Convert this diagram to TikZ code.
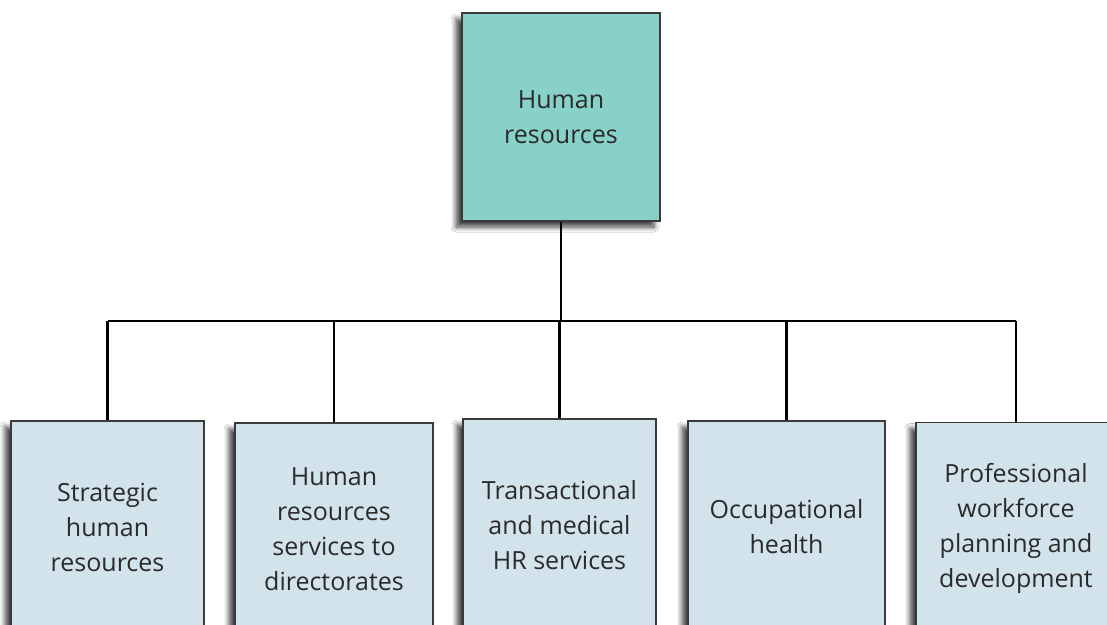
\documentclass[tikz,border=0pt]{standalone}
\usepackage{fontspec}
\setmainfont{Open Sans}
\usetikzlibrary{shadows.blur}
\definecolor{topfill}{HTML}{88D1C9}
\definecolor{childfill}{HTML}{D3E3EC}
\definecolor{boxedge}{HTML}{3A3A3A}
\definecolor{txt}{HTML}{2A2A2A}
\tikzset{
  unitbox/.style={draw=boxedge, line width=1.3pt, text=txt, align=center,
    inner sep=0pt, font=\fontsize{25}{35}\selectfont,
    blur shadow={shadow xshift=-6pt, shadow yshift=-6pt, shadow blur radius=5pt, shadow blur steps=8, shadow opacity=75}},
  headbox/.style={unitbox, fill=topfill, minimum width=198pt, minimum height=208pt},
  childbox/.style={unitbox, fill=childfill, minimum height=212pt},
  link/.style={draw=black, line width=2.3pt}
}
\begin{document}
\begin{tikzpicture}[x=1pt,y=-1pt]
\clip (0,0) rectangle (1107,624);
\fill[white] (0,0) rectangle (1107,624);
\node[headbox] (top) at (561,117) {Human\\resources};
\node[childbox, minimum width=193pt] (c1) at (107.5,527) {Strategic\\human\\resources};
\node[childbox, minimum width=198pt] (c2) at (334,529) {Human\\resources\\services to\\directorates};
\node[childbox, minimum width=193pt] (c3) at (559.5,525) {Transactional\\and medical\\HR services};
\node[childbox, minimum width=197pt] (c4) at (786.5,527) {Occupational\\health};
\node[childbox, minimum width=200pt] (c5) at (1016,528.5) {Professional\\workforce\\planning and\\development};
\coordinate (bus) at (561,321);
\draw[link] (top.south) -- (bus);
\draw[link] (c1.north |- bus) -- (c5.north |- bus);
\foreach \n in {c1,c2,c3,c4,c5} \draw[link] (\n.north) -- (\n.north |- bus);
\end{tikzpicture}
\end{document}
